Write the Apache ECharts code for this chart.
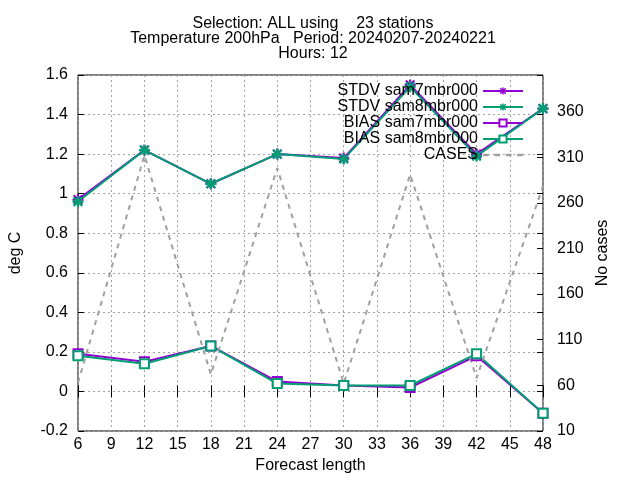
<!DOCTYPE html>
<html>
<head>
<meta charset="utf-8">
<script src="https://cdn.jsdelivr.net/npm/echarts@6/dist/echarts.min.js"></script>
<style>
  html, body { margin: 0; padding: 0; background: #fff; }
  #chart { width: 640px; height: 480px; }
</style>
</head>
<body>
<div id="chart"></div>
<script>
// forecast lead times (h)
var leadTimes = [6, 12, 18, 24, 30, 36, 42, 48];
// standard deviation, deg C
var stdvSam7 = [0.97, 1.22, 1.05, 1.20, 1.18, 1.55, 1.20, 1.43];
var stdvSam8 = [0.96, 1.22, 1.05, 1.20, 1.175, 1.54, 1.19, 1.43];
// bias, deg C
var biasSam7 = [0.19, 0.15, 0.23, 0.05, 0.03, 0.02, 0.18, -0.11];
var biasSam8 = [0.18, 0.14, 0.23, 0.04, 0.03, 0.03, 0.19, -0.11];
// number of cases (right axis)
var cases = [63, 312, 72, 298, 62, 291, 68, 278];

var titleLines = [
    'Selection: ALL using    23 stations',
    'Temperature 200hPa   Period: 20240207-20240221',
    'Hours: 12'
];

var FONT = "'Liberation Sans', Arial, sans-serif";
var PURPLE = '#9400d3';
var GREEN = '#009e73';
var GREY = '#a0a0a0';
// gnuplot style "*" point
var STAR = 'path://M4,0H6V10H4Z M0,4H10V6H0Z M0.4,1.8L1.8,0.4L9.6,8.2L8.2,9.6Z M8.2,0.4L9.6,1.8L1.8,9.6L0.4,8.2Z';
// dashed sample for the CASES legend entry
var DASH = 'path://M0,0H5V2H0Z M10,0H15V2H10Z M20,0H25V2H20Z M30,0H35V2H30Z';

function pairs(ys) {
    return leadTimes.map(function (x, i) { return [x, ys[i]]; });
}

function lineSeries(name, ys, color, symbol, size) {
    return {
        name: name,
        type: 'line',
        data: pairs(ys),
        symbol: symbol,
        symbolSize: size,
        showAllSymbol: true,
        lineStyle: { color: color, width: 2 },
        itemStyle: { color: color, borderColor: color, borderWidth: symbol === 'emptyRect' ? 2 : 0 },
        emphasis: { disabled: true },
        animation: false
    };
}

var dom = document.getElementById('chart');
var myChart = echarts.init(dom, null, { renderer: 'canvas' });
var option = {
    backgroundColor: '#fff',
    textStyle: { fontFamily: FONT },
    title: {
        text: titleLines.join('\n'),
        left: 308,
        top: 11,
        textAlign: 'center',
        textStyle: { fontSize: 16, fontWeight: 'normal', color: '#000', lineHeight: 15, fontFamily: FONT }
    },
    legend: {
        orient: 'vertical',
        align: 'right',
        right: 111,
        top: 78,
        itemWidth: 40,
        itemHeight: 9,
        itemGap: 0,
        textStyle: { fontSize: 16, color: '#000', lineHeight: 15, fontFamily: FONT },
        data: [
            'STDV sam7mbr000',
            'STDV sam8mbr000',
            'BIAS sam7mbr000',
            'BIAS sam8mbr000',
            { name: 'CASES', icon: DASH }
        ]
    },
    grid: { left: 73, right: 97, top: 75, bottom: 49, show: true, borderColor: '#000', borderWidth: 1, backgroundColor: 'transparent' },
    xAxis: [{
        type: 'value',
        min: 6, max: 48, interval: 3,
        name: 'Forecast length',
        nameLocation: 'middle',
        nameGap: 27,
        nameTextStyle: { fontSize: 16, color: '#000' },
        axisLine: { show: false },
        axisTick: { show: true, inside: true, length: 6, lineStyle: { color: '#000' } },
        axisLabel: { fontSize: 16, color: '#000', margin: 6 },
        splitLine: { show: true, lineStyle: { color: GREY, type: [2, 3], width: 1 } }
    }, {
        type: 'value',
        position: 'top',
        min: 6, max: 48, interval: 3,
        axisLine: { show: false },
        axisTick: { show: true, inside: true, length: 6, lineStyle: { color: '#000' } },
        axisLabel: { show: false },
        splitLine: { show: false }
    }],
    yAxis: [{
        type: 'value',
        min: -0.2, max: 1.6, interval: 0.2,
        name: 'deg C',
        nameLocation: 'middle',
        nameRotate: 90,
        nameGap: 54,
        nameTextStyle: { fontSize: 16, color: '#000' },
        axisLine: { show: false },
        axisTick: { show: true, inside: true, length: 6, lineStyle: { color: '#000' } },
        axisLabel: { fontSize: 16, color: '#000', margin: 10 },
        splitLine: { show: true, lineStyle: { color: GREY, type: [2, 3], width: 1 } }
    }, {
        type: 'value',
        position: 'right',
        min: 10, max: 400, interval: 50,
        name: 'No cases',
        nameLocation: 'middle',
        nameRotate: 90,
        nameGap: 52,
        nameTextStyle: { fontSize: 16, color: '#000' },
        axisLine: { show: false },
        axisTick: { show: true, inside: true, length: 6, lineStyle: { color: '#000' } },
        axisLabel: { fontSize: 16, color: '#000', margin: 14, showMaxLabel: false },
        splitLine: { show: false }
    }, {
        // mirror ticks of the left axis on the right border
        type: 'value',
        position: 'right',
        min: -0.2, max: 1.6, interval: 0.2,
        axisLine: { show: false },
        axisTick: { show: true, inside: true, length: 6, lineStyle: { color: '#000' } },
        axisLabel: { show: false },
        splitLine: { show: false }
    }],
    series: [
        lineSeries('STDV sam7mbr000', stdvSam7, PURPLE, STAR, 11),
        lineSeries('STDV sam8mbr000', stdvSam8, GREEN, STAR, 11),
        lineSeries('BIAS sam7mbr000', biasSam7, PURPLE, 'emptyRect', 9),
        lineSeries('BIAS sam8mbr000', biasSam8, GREEN, 'emptyRect', 9),
        {
            name: 'CASES',
            type: 'line',
            yAxisIndex: 1,
            data: pairs(cases),
            symbol: 'none',
            lineStyle: { color: GREY, width: 2, type: [5, 5] },
            itemStyle: { color: GREY },
            emphasis: { disabled: true },
            animation: false
        }
    ]
};
myChart.setOption(option, true);
window.onresize = myChart.resize;
</script>
</body>
</html>
